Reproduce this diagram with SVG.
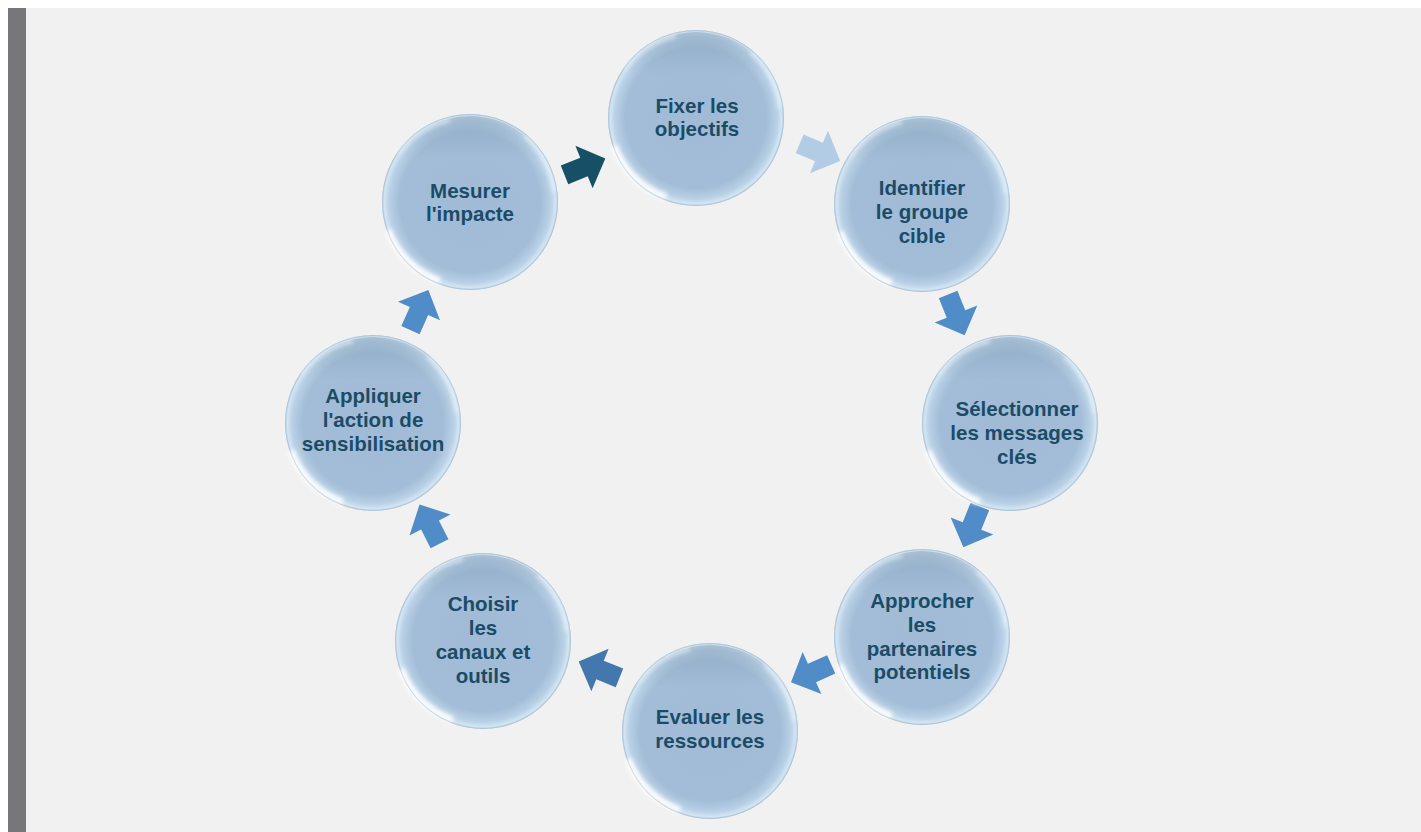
<svg xmlns="http://www.w3.org/2000/svg" width="1421" height="832" viewBox="0 0 1421 832">
<style>
.t{font-family:"Liberation Sans",Arial,sans-serif;font-weight:bold;font-size:20.5px;fill:#1a4c66;text-anchor:middle}
</style>
<defs>
<radialGradient id="g" cx="0.5" cy="0.5" r="0.5">
<stop offset="0" stop-color="#a1bbd7"/>
<stop offset="0.8" stop-color="#a3bdd8"/>
<stop offset="0.92" stop-color="#b9d1e6"/>
<stop offset="0.975" stop-color="#d3e5f2"/>
<stop offset="1" stop-color="#b2c9dd"/>
</radialGradient>
<linearGradient id="sh" x1="0" y1="0" x2="0" y2="1">
<stop offset="0" stop-color="#7f9bb5" stop-opacity="0.5"/>
<stop offset="0.25" stop-color="#7f9bb5" stop-opacity="0"/>
</linearGradient>
<filter id="bl" x="-20%" y="-20%" width="140%" height="140%"><feGaussianBlur stdDeviation="2"/></filter>
<g id="bubble">
<circle r="88" fill="url(#g)"/>
<circle r="86" fill="url(#sh)"/>
<path d="M-82,28 A86,86 0 0 0 -30,79" fill="none" stroke="#ffffff" stroke-width="7" stroke-opacity="0.9" filter="url(#bl)"/>
<path d="M-72,-48 A86,86 0 0 1 -20,-82" fill="none" stroke="#e6f1f8" stroke-width="4" stroke-opacity="0.7" filter="url(#bl)"/>
<path d="M55,-66 A86,86 0 0 1 84,-10" fill="none" stroke="#eaf4fa" stroke-width="4" stroke-opacity="0.7" filter="url(#bl)"/>
<circle r="87.5" fill="none" stroke="#9fb6cc" stroke-width="1" stroke-opacity="0.4"/>
</g>
<polygon id="arr" points="-21,-10 0,-10 0,-23 23,0 0,23 0,10 -21,10"/>
</defs>
<rect x="0" y="0" width="1421" height="832" fill="#ffffff"/>
<rect x="8" y="8" width="1413" height="824" fill="#f1f1f1"/>
<rect x="8" y="8" width="18" height="824" fill="#77777b"/>
<g id="connectors">
<use href="#arr" transform="translate(584,167) rotate(-22)" fill="#164f66"/>
<use href="#arr" transform="translate(819,152) rotate(23)" fill="#b3cce6"/>
<use href="#arr" transform="translate(956,314) rotate(68)" fill="#4f8cc8"/>
<use href="#arr" transform="translate(972,526) rotate(112)" fill="#4f8cc8"/>
<use href="#arr" transform="translate(812,673) rotate(156)" fill="#4f8cc8"/>
<use href="#arr" transform="translate(600,670) rotate(-158)" fill="#4278ad"/>
<use href="#arr" transform="translate(430,525) rotate(-117)" fill="#4f8cc8"/>
<use href="#arr" transform="translate(419,311) rotate(-66)" fill="#4f8cc8"/>
</g>
<g id="n1"><use href="#bubble" transform="translate(696,118)"/><text class="t" x="697" y="113">Fixer les</text><text class="t" x="697" y="136">objectifs</text></g>
<g id="n2"><use href="#bubble" transform="translate(922,204)"/><text class="t" x="922" y="195">Identifier</text><text class="t" x="922" y="219">le groupe</text><text class="t" x="922" y="243">cible</text></g>
<g id="n3"><use href="#bubble" transform="translate(1010,423)"/><text class="t" x="1017" y="416">Sélectionner</text><text class="t" x="1017" y="440">les messages</text><text class="t" x="1017" y="464">clés</text></g>
<g id="n4"><use href="#bubble" transform="translate(922,637)"/><text class="t" x="922" y="608">Approcher</text><text class="t" x="922" y="632">les</text><text class="t" x="922" y="656">partenaires</text><text class="t" x="922" y="679">potentiels</text></g>
<g id="n5"><use href="#bubble" transform="translate(710,731)"/><text class="t" x="710" y="724">Evaluer les</text><text class="t" x="710" y="748">ressources</text></g>
<g id="n6"><use href="#bubble" transform="translate(483,641)"/><text class="t" x="483" y="611">Choisir</text><text class="t" x="483" y="635">les</text><text class="t" x="483" y="659">canaux et</text><text class="t" x="483" y="683">outils</text></g>
<g id="n7"><use href="#bubble" transform="translate(373,423)"/><text class="t" x="373" y="403">Appliquer</text><text class="t" x="373" y="427">l'action de</text><text class="t" x="373" y="451">sensibilisation</text></g>
<g id="n8"><use href="#bubble" transform="translate(470,202)"/><text class="t" x="470" y="198">Mesurer</text><text class="t" x="470" y="221">l'impacte</text></g>
</svg>
